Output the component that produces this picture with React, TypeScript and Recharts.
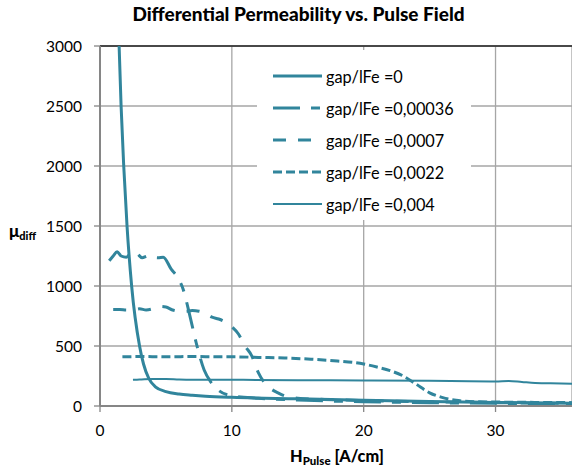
import { CartesianGrid, Legend, Line, LineChart, ReferenceLine, XAxis, YAxis } from "recharts";

const COLOR = "#31859c";
const FONT = "Lato, 'Open Sans', sans-serif";

const xTicks = [0, 10, 20, 30];
const yTicks = [0, 500, 1000, 1500, 2000, 2500, 3000];

const gapLabels = [
  "gap/lFe =0",
  "gap/lFe =0,00036",
  "gap/lFe =0,0007",
  "gap/lFe =0,0022",
  "gap/lFe =0,004",
];

// gap/lFe = 0
const h0 = [1.45, 1.6, 1.8, 2.05, 2.4, 3.0, 3.3, 3.7, 4.2, 5, 6, 7, 8, 10, 15, 20, 25, 30, 36];
const mu0 = [3000, 2500, 2000, 1500, 1000, 500, 350, 230, 160, 120, 100, 90, 82, 72, 60, 48, 38, 30, 22];

// gap/lFe = 0,00036
const h1 = [0.7, 1.0, 1.3, 1.6, 2.0, 2.4, 2.8, 3.2, 3.6, 4.0, 4.4, 4.8, 5.4, 5.9, 6.3, 6.8, 7.3, 7.9, 8.4, 9.0, 10, 12, 15, 20, 25, 30, 36];
const mu1 = [1210, 1250, 1285, 1250, 1240, 1280, 1270, 1235, 1250, 1240, 1235, 1240, 1140, 1070, 975, 760, 525, 300, 200, 130, 85, 65, 50, 35, 28, 22, 18];

// gap/lFe = 0,0007
const h2 = [1.0, 1.5, 2.0, 2.5, 3.0, 3.5, 4.0, 4.5, 5.0, 5.5, 6.0, 6.5, 7.0, 7.5, 8.0, 8.5, 9.0, 9.5, 10.0, 10.5, 11.0, 11.5, 12.0, 12.5, 13, 13.5, 14, 15, 17, 20, 25, 30, 36];
const mu2 = [805, 805, 800, 800, 810, 800, 810, 830, 825, 800, 790, 790, 795, 790, 770, 740, 725, 700, 660, 600, 500, 420, 280, 190, 140, 110, 85, 65, 55, 45, 35, 28, 22];

// gap/lFe = 0,0022
const h3 = [1.7, 3, 5, 7, 9, 10, 12, 14, 16, 18, 20, 21, 22, 23, 24, 25, 26, 27, 28, 30, 33, 36];
const mu3 = [410, 412, 410, 412, 410, 410, 405, 400, 390, 375, 350, 325, 295, 250, 180, 110, 70, 48, 38, 33, 30, 28];

// gap/lFe = 0,004
const h4 = [2.5, 3, 4, 5, 6, 7, 10, 15, 20, 25, 28, 30, 31, 32, 33, 35, 36];
const mu4 = [218, 220, 225, 225, 220, 218, 218, 215, 213, 210, 207, 205, 208, 200, 192, 188, 185];

const toRows = (h: number[], mu: number[]) => h.map((x, i) => ({ h: x, mu: mu[i] }));

const series = [
  { name: gapLabels[0], data: toRows(h0, mu0), width: 3, dash: undefined },
  { name: gapLabels[1], data: toRows(h1, mu1), width: 3, dash: "27 11 9 11" },
  { name: gapLabels[2], data: toRows(h2, mu2), width: 3, dash: "13 12" },
  { name: gapLabels[3], data: toRows(h3, mu3), width: 3, dash: "9 4" },
  { name: gapLabels[4], data: toRows(h4, mu4), width: 2, dash: undefined },
];

function LegendBox() {
  return (
    <div style={{ background: "#fff", width: 214, height: 170, paddingTop: 10, boxSizing: "border-box" }}>
      {series.map((s) => (
        <div key={s.name} style={{ display: "flex", alignItems: "center", height: 32, paddingLeft: 16 }}>
          <svg width={49} height={8}>
            <line x1={0} y1={4} x2={49} y2={4} stroke={COLOR} strokeWidth={s.width} strokeDasharray={s.dash} />
          </svg>
          <span style={{ marginLeft: 4, fontSize: 16.3, fontFamily: FONT, color: "#000" }}>{s.name}</span>
        </div>
      ))}
    </div>
  );
}

export default function App() {
  const tick = { fontSize: 15.5, fontFamily: FONT, fill: "#000" };
  return (
    <div style={{ position: "absolute", left: 0, top: 0, width: 572, height: 470, background: "#fff", fontFamily: FONT }}>
      <div
        style={{
          position: "absolute",
          left: 0,
          width: 597,
          top: 2,
          textAlign: "center",
          fontWeight: 900,
          fontSize: 19,
        }}
      >
        Differential Permeability vs. Pulse Field
      </div>
      <div style={{ position: "absolute", left: 9, top: 220, fontWeight: 900, fontSize: 17 }}>
        μ<sub style={{ fontSize: 11, verticalAlign: "-3px" }}>diff</sub>
      </div>
      <div
        style={{
          position: "absolute",
          left: 0,
          width: 674,
          top: 446,
          textAlign: "center",
          fontWeight: 900,
          fontSize: 16.3,
        }}
      >
        H<sub style={{ fontSize: 11.5, verticalAlign: "-3px" }}>Pulse</sub> [A/cm]
      </div>
      <LineChart
        width={572}
        height={470}
        margin={{ top: 46, right: 0, left: 0, bottom: 0 }}
        style={{ position: "absolute", left: 0, top: 0 }}
      >
        <CartesianGrid stroke="#a6a6a6" strokeWidth={1.3} />
        <XAxis
          dataKey="h"
          type="number"
          domain={[0, 35.8]}
          ticks={xTicks}
          allowDataOverflow
          height={64}
          tick={tick}
          tickSize={6}
          tickMargin={13}
          stroke="#868686"
          axisLine={{ stroke: "#868686", strokeWidth: 2 }}
          tickLine={{ stroke: "#868686", strokeWidth: 1.3 }}
        />
        <YAxis
          type="number"
          domain={[0, 3000]}
          ticks={yTicks}
          allowDataOverflow
          width={100}
          tick={tick}
          tickSize={6}
          tickMargin={12}
          stroke="#868686"
          axisLine={{ stroke: "#868686", strokeWidth: 2 }}
          tickLine={{ stroke: "#868686", strokeWidth: 1.3 }}
        />
        <ReferenceLine y={3000} stroke="#222" strokeWidth={1.3} />
        <Legend
          content={<LegendBox />}
          layout="vertical"
          verticalAlign="middle"
          align="center"
          wrapperStyle={{ left: 257, top: 50, width: 214, height: 170 }}
        />
        {series.map((s) => (
          <Line
            key={s.name}
            name={s.name}
            data={s.data}
            dataKey="mu"
            type="monotone"
            stroke={COLOR}
            strokeWidth={s.width}
            strokeDasharray={s.dash}
            dot={false}
            activeDot={false}
            isAnimationActive={false}
          />
        ))}
      </LineChart>
    </div>
  );
}
